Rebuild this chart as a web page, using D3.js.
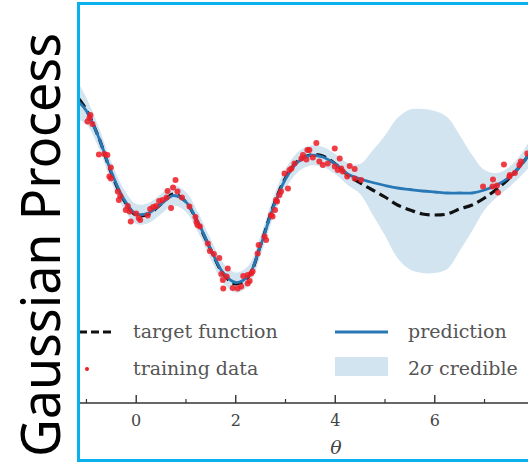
<!DOCTYPE html>
<html>
<head>
<meta charset="utf-8">
<script src="https://cdn.jsdelivr.net/npm/d3@7"></script>
<style>
  html, body { margin: 0; padding: 0; background: #fff; }
  svg { display: block; }
</style>
</head>
<body>
<div id="chart"></div>
<script>
// sample grid along theta
var thetaGrid = [-1.15, -1.0, -0.75, -0.5, -0.25, 0, 0.25, 0.5, 0.75, 1.0, 1.25, 1.5, 1.75, 2.0,
  2.25, 2.5, 2.75, 3.0, 3.25, 3.5, 3.75, 4.0, 4.25, 4.5, 4.75, 5.0, 5.25, 5.5, 5.75, 6.0,
  6.25, 6.5, 6.75, 7.0, 7.25, 7.5, 7.75, 7.9];

var targetValues = [3.08, 2.86, 2.30, 1.60, 1.06, 0.76, 0.78, 0.98, 1.18, 1.02, 0.58, 0.06, -0.42, -0.62,
  -0.48, 0.16, 0.92, 1.50, 1.84, 1.96, 1.94, 1.78, 1.56, 1.40, 1.26, 1.12, 0.96, 0.86, 0.78, 0.76,
  0.78, 0.88, 0.96, 1.10, 1.28, 1.50, 1.78, 1.98];

var predValues = [3.02, 2.84, 2.30, 1.62, 1.08, 0.78, 0.80, 0.98, 1.15, 1.02, 0.60, 0.07, -0.40, -0.59,
  -0.46, 0.15, 0.90, 1.48, 1.82, 1.95, 1.92, 1.78, 1.58, 1.48, 1.41, 1.35, 1.30, 1.27, 1.24, 1.22,
  1.20, 1.20, 1.20, 1.26, 1.36, 1.52, 1.78, 1.98];

// two-sigma half width
var twoSigma = [0.36, 0.26, 0.21, 0.20, 0.20, 0.20, 0.20, 0.20, 0.20, 0.20, 0.20, 0.20, 0.20, 0.20,
  0.20, 0.20, 0.20, 0.20, 0.20, 0.20, 0.20, 0.20, 0.22, 0.30, 0.64, 1.00, 1.40, 1.60, 1.64, 1.62,
  1.52, 1.16, 0.76, 0.40, 0.24, 0.20, 0.22, 0.26];

var trainTheta = [-0.92, -0.98, -0.88, -0.94, -0.75, -0.64, -0.58, -0.51, -0.54, -0.51, -0.37, -0.32, -0.35,
  -0.17, -0.21, -0.13, -0.11, 0.00, 0.08, 0.05, 0.23, 0.28, 0.34, 0.40, 0.46, 0.53, 0.61, 0.63, 0.74, 0.79,
  0.70, 0.83, 0.92, 1.07, 1.19, 1.21, 1.28, 1.23, 1.44, 1.48, 1.56, 1.67, 1.84, 1.71, 1.82, 1.75, 1.74,
  1.94, 2.04, 2.11, 2.15, 2.24, 2.31, 2.28, 2.24, 2.34, 2.46, 2.44, 2.61, 2.58, 2.74, 2.71, 2.79, 2.83,
  2.81, 2.88, 2.91, 3.05, 2.98, 3.08, 3.12, 3.18, 3.32, 3.35, 3.44, 3.48, 3.42, 3.55, 3.62, 3.68, 3.75,
  3.85, 3.99, 4.09, 4.05, 4.12, 4.29, 4.39, 4.39, 4.24, 4.15, 3.99, 4.52,
  6.97, 7.17, 7.16, 7.27, 7.25, 7.39, 7.50, 7.51, 7.61, 7.70, 7.73, 7.86];

var trainValues = [2.76, 2.63, 2.58, 2.70, 1.97, 1.98, 1.96, 1.71, 1.53, 1.49, 1.23, 1.14, 1.06,
  0.94, 0.86, 0.83, 0.63, 0.79, 0.66, 0.70, 0.75, 0.88, 0.92, 0.94, 1.04, 1.06, 1.11, 1.24, 1.31, 1.46,
  0.90, 1.23, 1.11, 0.93, 0.72, 0.62, 0.53, 0.56, 0.19, 0.04, -0.02, -0.10, -0.31, -0.42, -0.47, -0.71, -0.54,
  -0.70, -0.71, -0.67, -0.46, -0.44, -0.41, -0.56, -0.61, -0.37, 0.16, -0.01, 0.26, 0.33, 0.73, 0.76, 0.86, 1.03,
  1.06, 1.16, 1.23, 1.29, 1.59, 1.66, 1.69, 1.79, 1.89, 1.96, 2.06, 2.06, 1.87, 1.91, 2.20, 1.83, 1.76,
  1.79, 2.09, 1.89, 1.66, 1.69, 1.74, 1.68, 1.49, 1.53, 1.63, 1.73, 1.46,
  1.33, 1.47, 1.33, 1.21, 1.35, 1.77, 1.53, 1.56, 1.60, 1.76, 1.83, 1.99];

// only the labels that fall inside the cropped picture
var majorTicks = [0, 2, 4, 6];
var minorTicks = [-1, 1, 3, 5, 7];

var W = 528, H = 462;
var serif = "'DejaVu Serif', serif";

var svg = d3.select("#chart").append("svg")
  .attr("width", W)
  .attr("height", H);

// full axis runs past the right edge of the picture (cropped figure)
var x = d3.scaleLinear().domain([-1.17, 9.2]).range([78, 594]);
var y = d3.scaleLinear().domain([-3, 5]).range([403, 3]);

svg.append("clipPath").attr("id", "plotclip")
  .append("rect").attr("x", 79).attr("y", 4).attr("width", W - 79).attr("height", 399);

var gPlot = svg.append("g").attr("clip-path", "url(#plotclip)");

var rows = thetaGrid.map(function (t, i) {
  return { t: t, target: targetValues[i], pred: predValues[i], s: twoSigma[i] };
});

var band = d3.area()
  .x(function (d) { return x(d.t); })
  .y0(function (d) { return y(d.pred - d.s); })
  .y1(function (d) { return y(d.pred + d.s); })
  .curve(d3.curveCatmullRom);

gPlot.append("path").datum(rows)
  .attr("d", band)
  .style("fill", "#1f77b4")
  .style("fill-opacity", 0.2);

var targetLine = d3.line()
  .x(function (d) { return x(d.t); })
  .y(function (d) { return y(d.target); })
  .curve(d3.curveCatmullRom);

var predLine = d3.line()
  .x(function (d) { return x(d.t); })
  .y(function (d) { return y(d.pred); })
  .curve(d3.curveCatmullRom);

gPlot.append("path").datum(rows)
  .attr("d", targetLine)
  .style("fill", "none")
  .style("stroke", "#111")
  .style("stroke-width", 3.2)
  .style("stroke-dasharray", "10,5");

gPlot.append("path").datum(rows)
  .attr("d", predLine)
  .style("fill", "none")
  .style("stroke", "#2878b5")
  .style("stroke-width", 2.8);

gPlot.selectAll(".dot")
  .data(trainTheta.map(function (t, i) { return { t: t, v: trainValues[i] }; }))
  .enter().append("circle")
  .attr("class", "dot")
  .attr("cx", function (d) { return x(d.t); })
  .attr("cy", function (d) { return y(d.v); })
  .attr("r", 3)
  .style("fill", "#ee1c24")
  .style("fill-opacity", 0.85);

// x axis, ticks pointing inward
var axisY = 403;
svg.append("line")
  .attr("x1", 78).attr("x2", W)
  .attr("y1", axisY).attr("y2", axisY)
  .style("stroke", "#333").style("stroke-width", 1.6);

svg.selectAll(".major")
  .data(majorTicks).enter().append("line")
  .attr("x1", function (d) { return x(d); })
  .attr("x2", function (d) { return x(d); })
  .attr("y1", axisY).attr("y2", axisY - 8)
  .style("stroke", "#333").style("stroke-width", 1.4);

svg.selectAll(".minor")
  .data(minorTicks).enter().append("line")
  .attr("x1", function (d) { return x(d); })
  .attr("x2", function (d) { return x(d); })
  .attr("y1", axisY).attr("y2", axisY - 4)
  .style("stroke", "#333").style("stroke-width", 1.2);

svg.selectAll(".ticklabel")
  .data(majorTicks).enter().append("text")
  .attr("x", function (d) { return x(d); })
  .attr("y", 426)
  .attr("text-anchor", "middle")
  .style("font-family", serif)
  .style("font-size", "16px")
  .style("fill", "#444")
  .text(function (d) { return d; });

svg.append("text")
  .attr("x", (x.range()[0] + x.range()[1]) / 2)
  .attr("y", 454)
  .attr("text-anchor", "middle")
  .style("font-family", serif)
  .style("font-style", "italic")
  .style("font-size", "19px")
  .style("fill", "#444")
  .text("θ");

// legend
var lg = svg.append("g").style("font-family", serif).style("font-size", "19px").style("fill", "#555");
lg.append("line").attr("x1", 79).attr("x2", 113).attr("y1", 332).attr("y2", 332)
  .style("stroke", "#111").style("stroke-width", 3).style("stroke-dasharray", "8,4");
lg.append("text").attr("x", 133).attr("y", 338).text("target function");
lg.append("line").attr("x1", 335).attr("x2", 388).attr("y1", 332).attr("y2", 332)
  .style("stroke", "#2878b5").style("stroke-width", 2.8);
lg.append("text").attr("x", 408).attr("y", 338).text("prediction");
lg.append("circle").attr("cx", 87).attr("cy", 369).attr("r", 2).style("fill", "#ee1c24");
lg.append("text").attr("x", 133).attr("y", 375).text("training data");
lg.append("rect").attr("x", 335).attr("y", 357).attr("width", 53).attr("height", 19)
  .style("fill", "#1f77b4").style("fill-opacity", 0.2);
var cred = lg.append("text").attr("x", 408).attr("y", 375);
cred.append("tspan").text("2");
cred.append("tspan").style("font-style", "italic").text("σ");
cred.append("tspan").text(" credible");

// blue frame
svg.append("rect")
  .attr("x", 78.5).attr("y", 3.5).attr("width", 600).attr("height", 457)
  .style("fill", "none").style("stroke", "#0ab0ee").style("stroke-width", 3);

// slide title
svg.append("text")
  .attr("transform", "translate(60,457) rotate(-90)")
  .attr("textLength", 424)
  .attr("lengthAdjust", "spacingAndGlyphs")
  .style("font-family", "'Noto Sans', sans-serif")
  .style("font-size", "55px")
  .style("fill", "#000")
  .text("Gaussian Process");
</script>
</body>
</html>
